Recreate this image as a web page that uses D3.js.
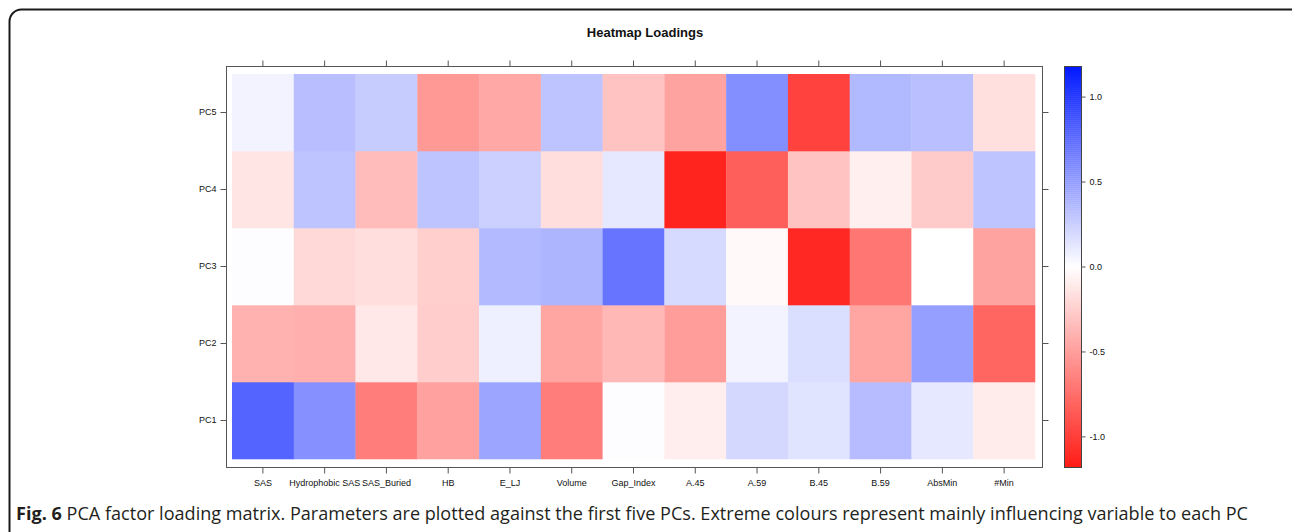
<!DOCTYPE html>
<html>
<head>
<meta charset="utf-8">
<script src="https://cdn.jsdelivr.net/npm/d3@7"></script>
<style>
  html, body { margin: 0; padding: 0; background: #fff; }
  svg { display: block; }
</style>
</head>
<body>
<svg id="chart" width="1292" height="532"></svg>
<script>
// ---------- data ----------
const variables = ["SAS", "Hydrophobic SAS", "SAS_Buried", "HB", "E_LJ", "Volume",
                   "Gap_Index", "A.45", "A.59", "B.45", "B.59", "AbsMin", "#Min"];
const components = ["PC1", "PC2", "PC3", "PC4", "PC5"];
const pc1 = [ 0.79,  0.56, -0.67, -0.49,  0.46, -0.67,  0.01, -0.09,  0.20,  0.14,  0.34,  0.12, -0.10];
const pc2 = [-0.40, -0.41, -0.12, -0.26,  0.08, -0.47, -0.37, -0.51,  0.06,  0.17, -0.47,  0.49, -0.80];
const pc3 = [ 0.01, -0.20, -0.17, -0.25,  0.35,  0.38,  0.71,  0.19, -0.03, -1.12, -0.71,  0.00, -0.48];
const pc4 = [-0.13,  0.30, -0.35,  0.30,  0.24, -0.17,  0.12, -1.14, -0.83, -0.31, -0.08, -0.27,  0.30];
const pc5 = [ 0.06,  0.33,  0.26, -0.53, -0.45,  0.30, -0.31, -0.48,  0.57, -0.98,  0.36,  0.32, -0.16];
const loadings = [pc1, pc2, pc3, pc4, pc5];
const colorTicks = [-1.0, -0.5, 0.0, 0.5, 1.0];
const colorLimit = 1.18;
const titleText = "Heatmap Loadings";
const captionBold = "Fig. 6";
const captionText = " PCA factor loading matrix. Parameters are plotted against the first five PCs. Extreme colours represent mainly influencing variable to each PC";

// ---------- layout ----------
const svg = d3.select("#chart");
const axisFont = "'Liberation Sans', Arial, Helvetica, sans-serif";
const panel = { x0: 226, x1: 1042, y0: 66, y1: 467 };
const cellArea = { x0: 232, x1: 1035, y0: 74, y1: 459 };

svg.append("rect").attr("width", 1292).attr("height", 532).attr("fill", "#fff");

// outer rounded frame
svg.append("rect")
  .attr("x", 9.5).attr("y", 9.5).attr("width", 1300).attr("height", 540)
  .attr("rx", 12).attr("ry", 12)
  .attr("fill", "none").attr("stroke", "#1a1a1a").attr("stroke-width", 2);

// title
svg.append("text")
  .attr("x", 645).attr("y", 37)
  .attr("text-anchor", "middle")
  .attr("font-family", axisFont).attr("font-weight", "bold").attr("font-size", 13)
  .attr("fill", "#111")
  .text(titleText);

const x = d3.scaleBand().domain(variables).range([cellArea.x0, cellArea.x1]);
const y = d3.scaleBand().domain(components.slice().reverse()).range([cellArea.y0, cellArea.y1]);

const color = d3.scaleLinear()
  .domain([-colorLimit, 0, colorLimit])
  .range(["rgb(255,28,22)", "#ffffff", "rgb(0,24,255)"])
  .interpolate(d3.interpolateRgb)
  .clamp(true);

// cells
const cells = [];
components.forEach((pc, i) => {
  variables.forEach((v, j) => cells.push({ pc, v, value: loadings[i][j] }));
});
svg.append("g").selectAll("rect").data(cells).join("rect")
  .attr("x", d => x(d.v))
  .attr("y", d => y(d.pc))
  .attr("width", x.bandwidth() + 0.3)
  .attr("height", y.bandwidth() + 0.3)
  .attr("fill", d => color(d.value));

// panel border
svg.append("rect")
  .attr("x", panel.x0 + 0.5).attr("y", panel.y0 + 0.5)
  .attr("width", panel.x1 - panel.x0).attr("height", panel.y1 - panel.y0)
  .attr("fill", "none").attr("stroke", "#555").attr("stroke-width", 1);

const tickLen = 6;
function styleAxis(g, showText) {
  g.select(".domain").remove();
  g.selectAll(".tick line").attr("stroke", "#555");
  g.selectAll(".tick text")
    .attr("font-family", axisFont).attr("font-size", 9).attr("fill", "#111");
  if (!showText) g.selectAll(".tick text").remove();
}

// bottom axis
svg.append("g")
  .attr("transform", `translate(0,${panel.y1 + 0.5})`)
  .call(d3.axisBottom(x).tickSize(tickLen).tickPadding(6))
  .call(g => styleAxis(g, true));
// top axis (ticks only)
svg.append("g")
  .attr("transform", `translate(0,${panel.y0 + 0.5})`)
  .call(d3.axisTop(x).tickSize(tickLen))
  .call(g => styleAxis(g, false));
// left axis
svg.append("g")
  .attr("transform", `translate(${panel.x0 + 0.5},0)`)
  .call(d3.axisLeft(y).tickSize(tickLen).tickPadding(4))
  .call(g => styleAxis(g, true));
// right axis (ticks only)
svg.append("g")
  .attr("transform", `translate(${panel.x1 + 0.5},0)`)
  .call(d3.axisRight(y).tickSize(tickLen))
  .call(g => styleAxis(g, false));

// colour key
const key = { x0: 1064, x1: 1081, y0: 66, y1: 467 };
const kScale = d3.scaleLinear().domain([-colorLimit, colorLimit]).range([key.y1, key.y0]);
const nSteps = 200;
const steps = d3.range(nSteps).map(i => -colorLimit + (i + 0.5) * (2 * colorLimit / nSteps));
const stepH = (key.y1 - key.y0) / nSteps;
svg.append("g").selectAll("rect").data(steps).join("rect")
  .attr("x", key.x0)
  .attr("width", key.x1 - key.x0)
  .attr("y", d => kScale(d) - stepH / 2)
  .attr("height", stepH + 0.4)
  .attr("fill", d => color(d));
svg.append("rect")
  .attr("x", key.x0 + 0.5).attr("y", key.y0 + 0.5)
  .attr("width", key.x1 - key.x0).attr("height", key.y1 - key.y0)
  .attr("fill", "none").attr("stroke", "#444").attr("stroke-width", 1);
svg.append("g")
  .attr("transform", `translate(${key.x1 + 0.5},0)`)
  .call(d3.axisRight(kScale).tickValues(colorTicks).tickSize(4).tickPadding(4)
        .tickFormat(d => d3.format(".1f")(d).replace("\u2212", "-")))
  .call(g => styleAxis(g, true));

// caption
const cap = svg.append("text")
  .attr("x", 16).attr("y", 520)
  .attr("font-family", "'Open Sans', 'Noto Sans', sans-serif")
  .attr("font-size", 18).attr("fill", "#231f20");
cap.append("tspan").attr("font-weight", "bold").text(captionBold);
cap.append("tspan").text(captionText);
cap.attr("textLength", 1232).attr("lengthAdjust", "spacingAndGlyphs");
</script>
</body>
</html>
